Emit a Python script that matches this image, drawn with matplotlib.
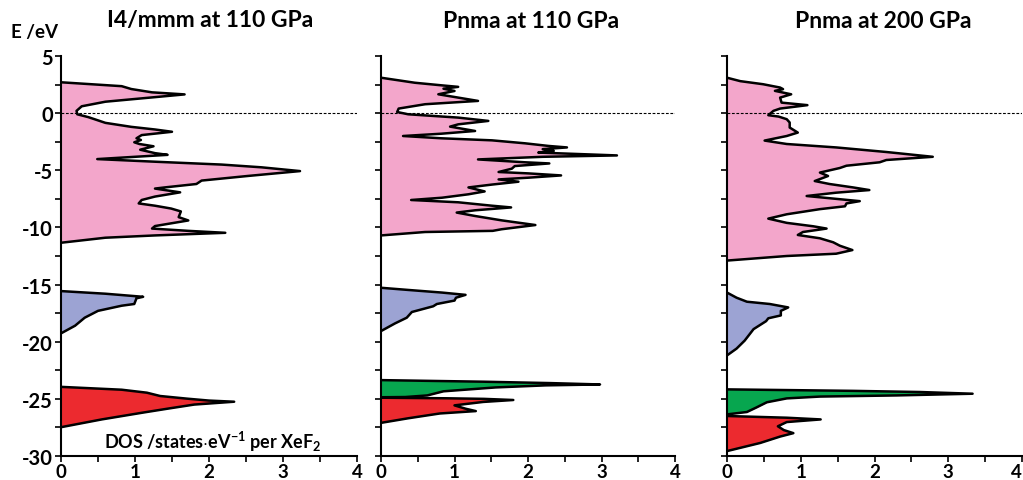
import matplotlib
matplotlib.use("Agg")
import matplotlib.pyplot as plt
from matplotlib.ticker import MultipleLocator

plt.rcParams['font.family'] = ['Lato', 'DejaVu Sans']
plt.rcParams['axes.unicode_minus'] = False
plt.rcParams['mathtext.fontset'] = 'custom'
plt.rcParams['mathtext.rm'] = 'Lato'
plt.rcParams['mathtext.bf'] = 'Lato:bold'

titles = ["I4/mmm at 110 GPa", "Pnma at 110 GPa", "Pnma at 200 GPa"]
x_ticks = [0, 1, 2, 3, 4]
y_ticks = [5, 0, -5, -10, -15, -20, -25, -30]

# ---- Panel 1: I4/mmm at 110 GPa ----
p1_pink_E = [2.70, 2.36, 2.11, 1.82, 1.64, 1.40, 1.00, 0.60, 0.20, -0.10, -0.35, -0.85, -1.20, -1.43, -1.63,
             -1.92, -2.20, -2.35, -2.55, -2.70, -2.90, -3.20, -3.50, -3.65, -3.80, -4.02, -4.25, -4.50, -4.74,
             -5.07, -5.50, -5.90, -6.20, -6.50, -6.60, -6.93, -7.30, -7.60, -7.90, -8.10, -8.35, -8.60, -9.10,
             -9.39, -9.88, -10.10, -10.30, -10.47, -10.70, -10.90, -11.34]
p1_pink_D = [0.0, 0.82, 0.95, 1.23, 1.67, 1.27, 0.60, 0.28, 0.21, 0.22, 0.37, 0.60, 0.95, 1.27, 1.50,
             1.09, 1.02, 1.08, 0.99, 1.06, 1.25, 1.07, 1.27, 1.44, 1.05, 0.49, 1.27, 2.17, 2.71,
             3.23, 2.52, 1.90, 1.83, 1.40, 1.27, 1.61, 1.27, 1.09, 1.05, 1.27, 1.49, 1.62, 1.59,
             1.72, 1.27, 1.23, 1.72, 2.22, 1.27, 0.60, 0.0]
p1_blue_E = [-15.57, -15.80, -16.07, -16.20, -16.70, -16.85, -17.30, -17.60, -17.90, -18.60, -19.27]
p1_blue_D = [0.0, 0.60, 1.11, 1.02, 0.99, 0.82, 0.50, 0.41, 0.32, 0.19, 0.0]
p1_red_E = [-23.95, -24.20, -24.46, -24.75, -24.98, -25.15, -25.25, -25.50, -25.85, -26.20, -26.80, -27.48]
p1_red_D = [0.0, 0.82, 1.16, 1.34, 1.70, 2.00, 2.34, 1.80, 1.45, 1.11, 0.55, 0.0]

# ---- Panel 2: Pnma at 110 GPa ----
p2_pink_E = [3.10, 2.66, 2.43, 2.30, 2.14, 1.94, 1.65, 1.36, 1.07, 0.78, 0.40, 0.10, -0.10, -0.39, -0.68,
             -0.98, -1.18, -1.56, -1.80, -2.00, -2.20, -2.38, -2.64, -2.87, -3.00, -3.15, -3.30, -3.45, -3.70,
             -3.82, -4.05, -4.30, -4.40, -4.63, -4.86, -5.15, -5.27, -5.45, -5.65, -5.80, -6.00, -6.25, -6.50,
             -6.85, -7.10, -7.40, -7.60, -7.80, -8.10, -8.25, -8.50, -8.70, -9.00, -9.38, -9.79, -10.16, -10.30,
             -10.40, -10.70]
p2_pink_D = [0.0, 0.46, 0.83, 1.05, 0.85, 1.00, 0.78, 1.05, 1.32, 0.60, 0.24, 0.22, 0.37, 1.05, 1.46,
             1.05, 0.94, 1.28, 0.82, 0.30, 0.82, 1.51, 1.96, 2.28, 2.53, 2.20, 2.35, 2.14, 3.21,
             2.20, 1.32, 1.96, 2.29, 1.82, 1.78, 1.60, 2.00, 2.45, 2.00, 1.60, 1.87, 1.51, 1.19,
             1.41, 1.19, 0.83, 0.41, 1.05, 1.51, 1.77, 1.28, 1.03, 1.28, 1.64, 2.10, 1.64, 1.52,
             0.60, 0.0]
p2_blue_E = [-15.28, -15.47, -15.70, -15.90, -16.15, -16.40, -16.70, -16.90, -17.40, -17.90, -18.40, -19.07]
p2_blue_D = [0.0, 0.37, 0.83, 1.15, 1.02, 1.00, 0.76, 0.71, 0.42, 0.35, 0.19, 0.0]
p2_green_E = [-23.36, -23.50, -23.62, -23.74, -23.82, -24.00, -24.34, -24.70, -24.84, -24.86]
p2_green_D = [0.0, 1.40, 2.30, 2.98, 2.24, 1.56, 0.85, 0.63, 0.33, 0.0]
p2_red_E = [-24.90, -24.95, -25.00, -25.10, -25.27, -25.57, -25.86, -26.07, -26.28, -26.70, -27.10]
p2_red_D = [0.0, 0.90, 1.40, 1.80, 1.39, 1.00, 1.15, 1.29, 0.80, 0.37, 0.0]

# ---- Panel 3: Pnma at 200 GPa ----
p3_pink_E = [3.10, 2.80, 2.53, 2.24, 2.10, 1.95, 1.65, 1.36, 0.92, 0.70, 0.40, 0.20, -0.18, -0.30, -0.53,
             -0.82, -1.26, -1.70, -2.00, -2.40, -2.70, -3.00, -3.40, -3.82, -4.10, -4.30, -4.60, -4.80, -5.20,
             -5.50, -5.94, -6.20, -6.50, -6.73, -6.96, -7.25, -7.50, -7.70, -7.90, -8.15, -8.40, -8.85, -9.23,
             -9.60, -9.90, -10.10, -10.40, -10.66, -10.95, -11.30, -11.60, -11.98, -12.30, -12.50, -12.90]
p3_pink_D = [0.0, 0.18, 0.49, 0.72, 0.76, 0.65, 0.87, 0.72, 0.74, 1.09, 0.72, 0.63, 0.56, 0.70, 0.81,
             0.85, 0.85, 0.96, 0.81, 0.51, 0.81, 1.48, 2.16, 2.79, 2.16, 2.07, 1.62, 1.53, 1.26,
             1.37, 1.19, 1.39, 1.71, 1.93, 1.48, 1.08, 1.48, 1.80, 1.62, 1.60, 1.26, 0.81, 0.56,
             0.81, 1.17, 1.35, 1.03, 0.96, 1.26, 1.44, 1.53, 1.70, 1.48, 0.81, 0.0]
p3_blue_E = [-15.70, -16.15, -16.50, -16.70, -17.00, -17.30, -17.70, -17.95, -18.20, -18.90, -19.90, -20.60, -21.20]
p3_blue_D = [0.0, 0.13, 0.27, 0.58, 0.83, 0.73, 0.73, 0.56, 0.53, 0.36, 0.24, 0.13, 0.0]
p3_green_E = [-24.17, -24.30, -24.40, -24.55, -24.70, -24.80, -24.96, -25.30, -25.75, -26.15, -26.36]
p3_green_D = [0.0, 1.71, 2.61, 3.33, 2.30, 1.26, 0.81, 0.54, 0.40, 0.27, 0.0]
p3_red_E = [-26.50, -26.65, -26.80, -27.03, -27.40, -27.73, -28.00, -28.30, -28.86, -29.57]
p3_red_D = [0.0, 0.81, 1.27, 0.81, 0.69, 0.77, 0.90, 0.72, 0.45, 0.0]

PINK = '#F3A6CB'
BLUE = '#9CA3D3'
GREEN = '#07A64F'
RED = '#EC2A2F'

panels = [
    [(p1_pink_E, p1_pink_D, PINK), (p1_blue_E, p1_blue_D, BLUE), (p1_red_E, p1_red_D, RED)],
    [(p2_pink_E, p2_pink_D, PINK), (p2_blue_E, p2_blue_D, BLUE), (p2_green_E, p2_green_D, GREEN),
     (p2_red_E, p2_red_D, RED)],
    [(p3_pink_E, p3_pink_D, PINK), (p3_blue_E, p3_blue_D, BLUE), (p3_green_E, p3_green_D, GREEN),
     (p3_red_E, p3_red_D, RED)],
]

W, H = 1023, 481
fig = plt.figure(figsize=(W / 100, H / 100), dpi=100)
lefts = [61, 381, 727]
rights = [357, 675, 1022]
title_cx = [210, 531, 883]
top_px, bot_px = 57, 457

for i, (bands, title) in enumerate(zip(panels, titles)):
    ax = fig.add_axes([lefts[i] / W, 1 - bot_px / H, (rights[i] - lefts[i]) / W, (bot_px - top_px) / H])
    for E, D, col in bands:
        ax.fill_betweenx(E, 0, D, color=col, lw=0, zorder=2)
        ax.plot(D, E, color='black', lw=1.8, zorder=3, solid_joinstyle='round')
    ax.plot([0, 4], [0, 0], color='black', lw=0.8, ls=(0, (2.5, 1.5)), zorder=4)
    ax.set_xlim(0, 4)
    ax.set_ylim(-30, 5)
    for s in ['top', 'right']:
        ax.spines[s].set_visible(False)
    for s in ['left', 'bottom']:
        ax.spines[s].set_linewidth(1.5)
        ax.spines[s].set_zorder(5)
    ax.set_xticks(x_ticks)
    ax.xaxis.set_minor_locator(MultipleLocator(0.5))
    ax.set_yticks(y_ticks)
    ax.yaxis.set_minor_locator(MultipleLocator(2.5))
    ax.tick_params(axis='both', which='both', direction='out', width=1.2, length=4)
    ax.tick_params(axis='x', labelsize=13.5, pad=1)
    ax.tick_params(axis='y', labelsize=14.5, pad=2)
    for lab in ax.get_xticklabels() + ax.get_yticklabels():
        lab.set_fontweight('bold')
    if i > 0:
        ax.set_yticklabels([])
    if i == 2:
        ax.get_xticklabels()[-1].set_horizontalalignment('right')
    ax.patch.set_alpha(0)

    fig.text(title_cx[i] / W, 1 - 21 / H, title, fontsize=16.5, fontweight='bold', ha='center', va='center')

    if i == 0:
        ax.text(2.05, -28.7, r"DOS /states$\cdot$eV$^{\mathbf{-1}}$ per XeF$_{\mathbf{2}}$", fontsize=13,
                fontweight='bold', ha='center', va='center', zorder=6)

fig.text(11 / W, 1 - 33 / H, "E /eV", fontsize=13.5, fontweight='bold', ha='left', va='center')

fig.savefig("out.png", dpi=100)
